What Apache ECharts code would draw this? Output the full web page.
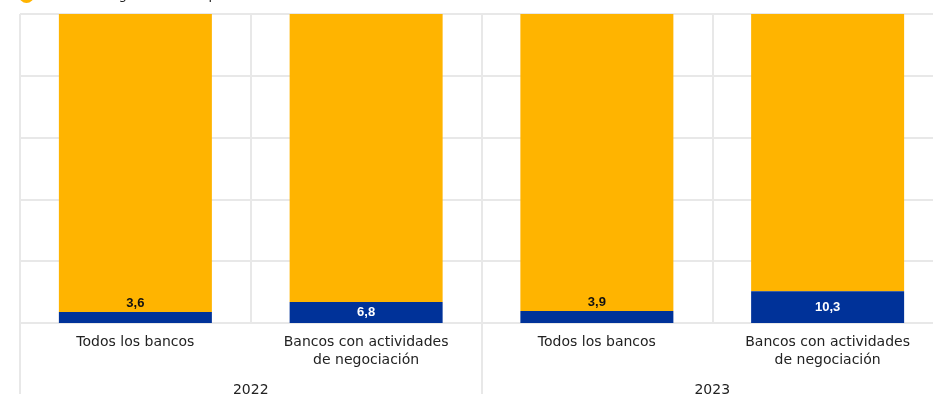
<!DOCTYPE html>
<html>
<head>
<meta charset="utf-8">
<script src="https://cdn.jsdelivr.net/npm/echarts@6/dist/echarts.min.js"></script>
<style>
  html, body { margin: 0; padding: 0; background: #fff; overflow: hidden; width: 933px; height: 394px; }
  #frame { position: relative; width: 933px; height: 394px; overflow: hidden; }
  #chart { position: absolute; left: 0; top: 0; width: 943px; height: 394px; }
</style>
</head>
<body>
<div id="frame"><div id="chart"></div></div>
<script>
// Bank categories and their year groups
const categories = ['Todos los bancos', 'Bancos con actividades\nde negociación', 'Todos los bancos', 'Bancos con actividades\nde negociación'];
const years = ['2022', '2023'];

// Shares of total capital requirements (%)
const marketRisk = [3.6, 6.8, 3.9, 10.3];
const otherRisks = [96.4, 93.2, 96.1, 89.7];

// Series names
const seriesNames = ['Exigencias de capital por riesgo de mercado', 'Resto de exigencias de capital'];

// Y-axis ticks (percent)
const yTicks = [0, 20, 40, 60, 80, 100];

const BLUE = '#003299';
const ORANGE = '#FFB400';
const GRID = '#e8e8e8';
const FONT = '"Liberation Sans", Arial, sans-serif';
const AXIS_FONT = '"DejaVu Sans", sans-serif';

// Short bars get their value above the blue segment, tall ones inside it
const blueData = marketRisk.map(v => {
  const inside = v > 5;
  return {
    value: v,
    label: {
      show: true,
      position: inside ? 'inside' : 'top',
      distance: 2,
      color: inside ? '#ffffff' : '#111111',
      fontWeight: 'bold',
      fontSize: 13,
      fontFamily: FONT,
      formatter: p => String(p.value).replace('.', ',')
    }
  };
});

const chart = echarts.init(document.getElementById('chart'), null, { renderer: 'canvas' });
chart.setOption({
  animation: false,
  backgroundColor: '#ffffff',
  legend: {
    orient: 'vertical',
    left: 19,
    top: -31,
    padding: 0,
    itemWidth: 15,
    itemHeight: 15,
    itemGap: 4,
    icon: 'circle',
    data: seriesNames,
    textStyle: { fontSize: 13, color: '#222', fontFamily: AXIS_FONT }
  },
  // fixed plot box; labels below are allowed to run past the canvas edge
  grid: { left: 20, right: 0, top: 14, bottom: 71, containLabel: false, outerBoundsMode: 'none' },
  xAxis: [
    {
      type: 'category',
      data: categories,
      position: 'bottom',
      axisLine: { show: false },
      axisTick: { show: false },
      splitLine: { show: true, lineStyle: { color: GRID, width: 2 } },
      axisLabel: {
        interval: 0,
        margin: 10,
        fontSize: 14,
        lineHeight: 18,
        color: '#222',
        fontFamily: AXIS_FONT
      }
    },
    {
      type: 'category',
      data: years,
      position: 'bottom',
      axisLine: { show: false },
      axisTick: { show: true, length: 80, lineStyle: { color: GRID, width: 2 } },
      splitLine: { show: true, lineStyle: { color: GRID, width: 2 } },
      axisLabel: { margin: 60, fontSize: 14, color: '#222', fontFamily: AXIS_FONT }
    }
  ],
  yAxis: {
    type: 'value',
    min: yTicks[0],
    max: yTicks[yTicks.length - 1],
    interval: yTicks[1] - yTicks[0],
    axisLine: { show: false },
    axisTick: { show: false },
    axisLabel: { show: false },
    splitLine: { show: true, lineStyle: { color: GRID, width: 2 } }
  },
  series: [
    {
      name: seriesNames[0],
      type: 'bar',
      stack: 'total',
      xAxisIndex: 0,
      barWidth: 153,
      itemStyle: { color: BLUE },
      data: blueData,
      z: 3
    },
    {
      name: seriesNames[1],
      type: 'bar',
      stack: 'total',
      xAxisIndex: 0,
      barWidth: 153,
      itemStyle: { color: ORANGE },
      data: otherRisks,
      z: 2
    }
  ]
});
</script>
</body>
</html>
